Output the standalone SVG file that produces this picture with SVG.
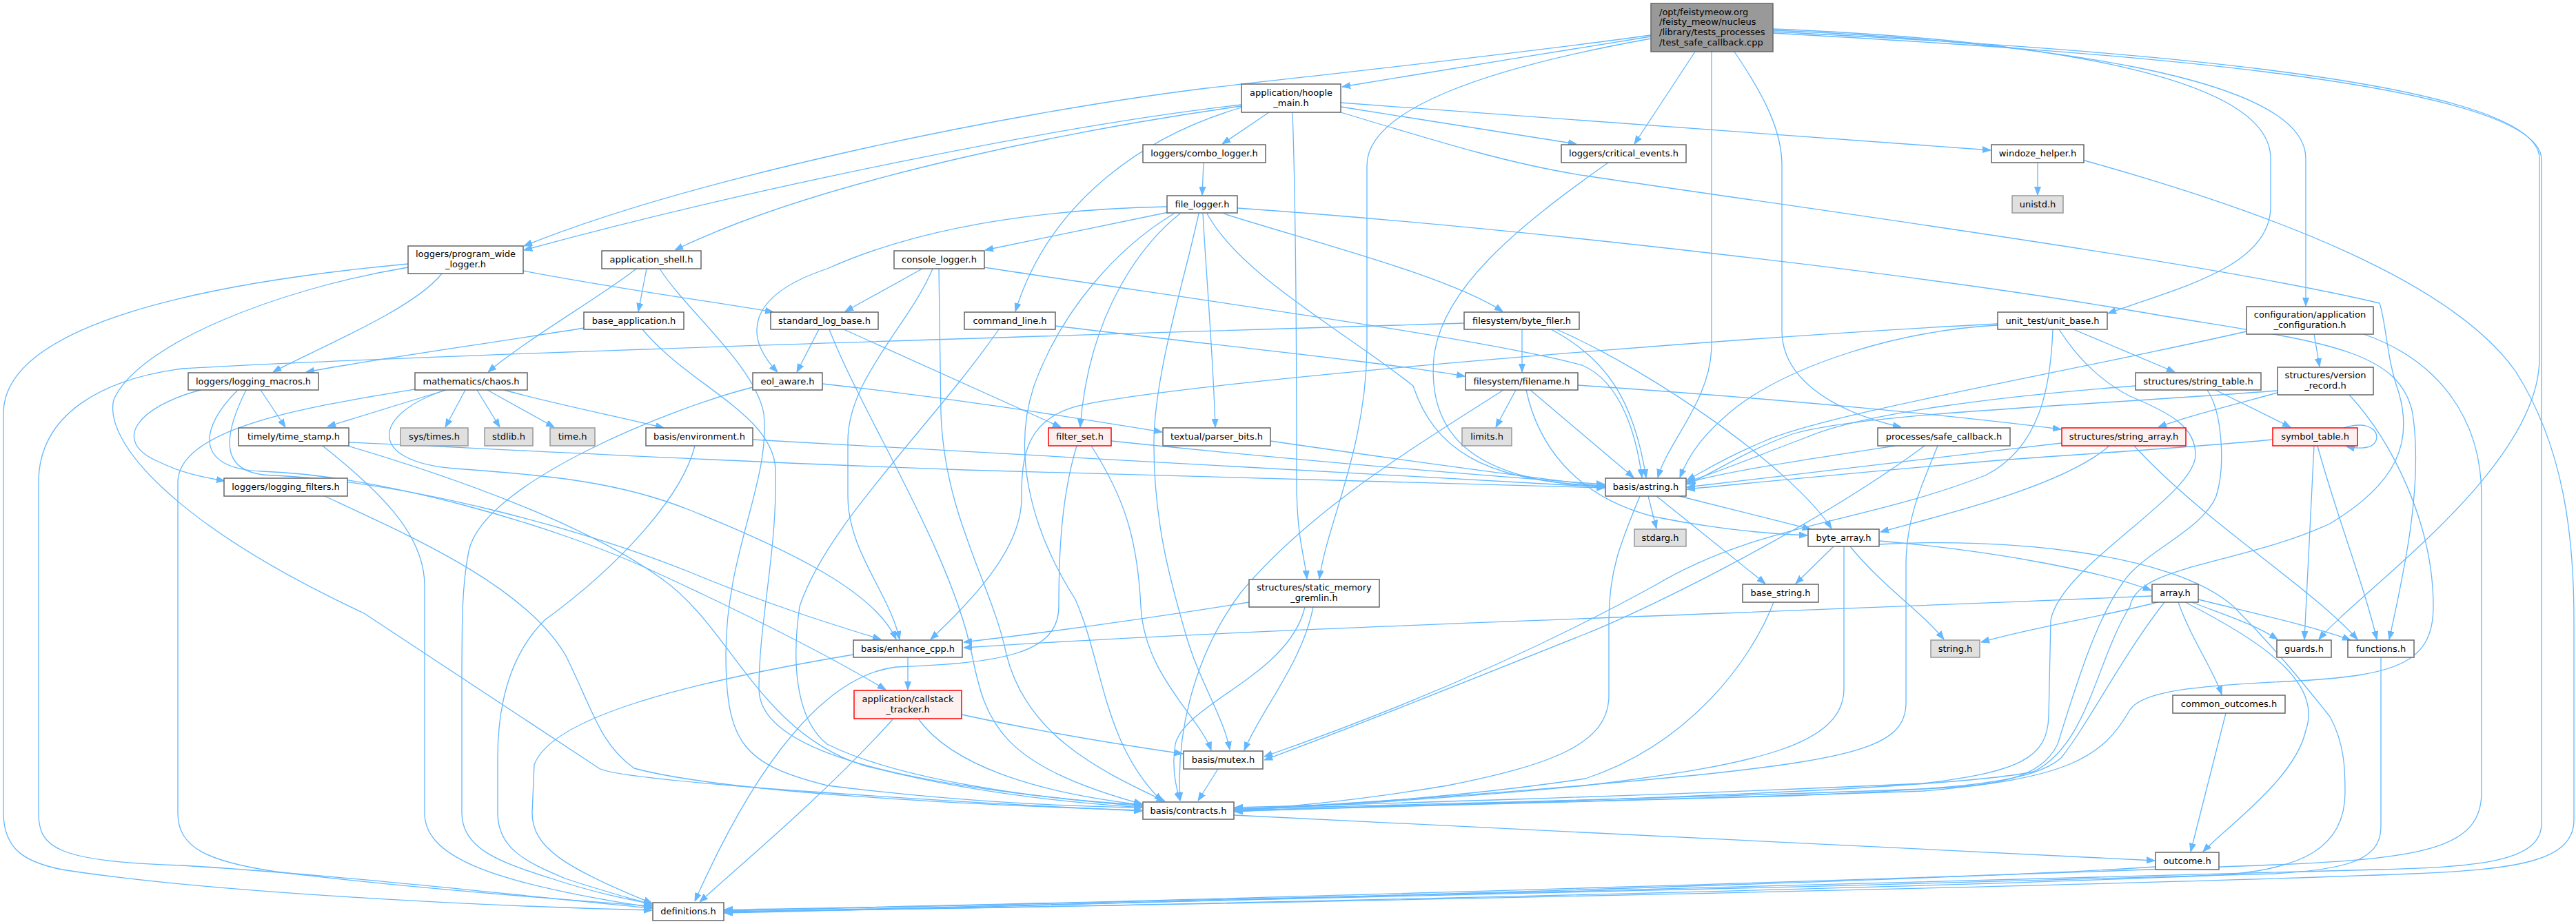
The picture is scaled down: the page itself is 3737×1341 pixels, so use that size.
<svg xmlns="http://www.w3.org/2000/svg" width="3737" height="1341" viewBox="0 0 3737 1341">
<defs>
<marker id="ah" viewBox="0 0 12 10" refX="12" refY="5" markerWidth="12" markerHeight="10" markerUnits="userSpaceOnUse" orient="auto"><path d="M0,0.5L12,5L0,9.5Z" fill="#63b8ff" stroke="#63b8ff" stroke-width="1"/></marker>
<style>
.e path{fill:none;stroke:#63b8ff;stroke-width:1.3;marker-end:url(#ah)}
.nd rect{fill:#ffffff;stroke:#666666;stroke-width:1.5}
.sys rect{fill:#e0e0e0;stroke:#999999}
.red rect{fill:#fff0f0;stroke:#ff0000}
.main rect{fill:#999999;stroke:#666666}
text{font-family:"DejaVu Sans",Verdana,sans-serif;font-size:13px;fill:#000000;text-anchor:middle}
.main text{text-anchor:start}
</style>
</defs>
<rect width="3737" height="1341" fill="#ffffff"/>
<g id="edges" class="e">
<path d="M2395,53 C2250,76 2080,104 1947,126"/>
<path d="M2395,51 C2200,78 1950,105 1750,128 C1450,165 1000,260 760,357"/>
<path d="M2459,75 L2371,209"/>
<path d="M2483,75 L2483,500 C2483,580 2420,640 2405,693"/>
<path d="M2516,75 C2560,140 2585,190 2585,240 L2585,480 C2585,545 2650,595 2758,620"/>
<path d="M2395,56 C2150,100 1983,160 1983,240 L1983,500 C1983,650 1925,760 1914,840"/>
<path d="M2572,42 C2900,55 3294,100 3294,230 L3294,300 C3294,390 3150,420 3058,455"/>
<path d="M2572,44 C2950,60 3345,110 3345,230 L3345,444"/>
<path d="M2572,46 C3000,68 3684,110 3684,230 L3684,520 C3684,680 3420,860 3364,928"/>
<path d="M2572,48 C3000,72 3687,114 3687,232 L3687,1195 C3687,1250 3600,1258 3450,1262 C3000,1278 1500,1312 1051,1322"/>
<path d="M1801,152 C1550,180 1100,270 760,363"/>
<path d="M1801,154 C1600,182 1200,255 979,363"/>
<path d="M1801,156 C1650,200 1520,300 1473,452"/>
<path d="M1841,163 L1773,209"/>
<path d="M1875,163 C1880,300 1881,500 1881,700 C1881,780 1893,810 1896,840"/>
<path d="M1945,149 C2300,175 2700,205 2888,218"/>
<path d="M1945,155 L2287,209"/>
<path d="M1945,163 C2100,210 2200,240 2300,255 C2600,300 3200,380 3452,440 C3462,470 3462,520 3480,570 C3500,640 3480,700 3380,760 C3250,820 3100,820 3090,880 C3040,960 3030,1080 2950,1120 C2800,1150 2100,1168 1791,1176"/>
<path d="M1746,236 L1744,283"/>
<path d="M1695,308 L1429,363"/>
<path d="M1693,300 C1450,305 1300,345 1200,390 C1080,430 1080,490 1128,540"/>
<path d="M1703,310 C1620,360 1540,450 1500,560 C1470,650 1490,760 1560,870 C1600,960 1600,1080 1686,1163"/>
<path d="M1712,310 C1660,350 1580,450 1567,620"/>
<path d="M1739,310 C1720,400 1675,540 1674,640 C1673,760 1700,850 1720,920 C1740,990 1775,1040 1784,1088"/>
<path d="M1745,310 C1750,400 1760,520 1763,620"/>
<path d="M1775,310 C1900,350 2100,400 2180,452"/>
<path d="M1751,310 C1800,400 1950,480 2050,560 C2080,650 2150,700 2328,705"/>
<path d="M1795,302 C2200,330 2800,400 3100,452 C3350,495 3480,500 3500,600 C3515,700 3490,820 3466,928"/>
<path d="M2333,236 C2200,330 2090,420 2080,520 C2070,640 2150,700 2328,706"/>
<path d="M2956,236 L2956,283"/>
<path d="M3024,233 C3300,310 3560,410 3650,540 C3720,650 3734,780 3734,900 L3734,1190 C3734,1250 3650,1262 3500,1268 C3000,1288 1500,1318 1051,1323"/>
<path d="M592,383 C300,410 5,470 5,600 L5,1180 C5,1235 40,1252 90,1262 C300,1295 700,1315 946,1321"/>
<path d="M592,388 C400,420 200,500 165,580 C150,640 250,760 528,890 L869,1115 C900,1135 1400,1165 1657,1177"/>
<path d="M641,397 C600,450 450,510 396,540"/>
<path d="M759,393 C900,420 1050,440 1122,453"/>
<path d="M938,390 L926,452"/>
<path d="M923,390 C880,425 760,495 708,540"/>
<path d="M957,390 C995,450 1095,530 1108,600 C1118,700 1053,800 1053,950 C1053,1080 1080,1110 1200,1140 C1400,1165 1550,1170 1657,1172"/>
<path d="M847,476 C700,500 550,520 444,540"/>
<path d="M932,478 C1000,560 1120,600 1125,680 C1128,800 1101,900 1101,1000 C1101,1090 1300,1140 1657,1170"/>
<path d="M1338,390 L1226,452"/>
<path d="M1353,390 C1320,470 1230,550 1230,640 L1230,720 C1230,800 1290,860 1305,928"/>
<path d="M1362,390 L1365,600 C1370,750 1440,850 1460,950 C1490,1070 1600,1120 1690,1163"/>
<path d="M1428,388 C1700,430 2150,490 2295,530 C2355,555 2375,640 2382,693"/>
<path d="M1188,478 L1156,540"/>
<path d="M1224,478 L1539,620"/>
<path d="M1203,478 C1250,600 1380,800 1410,950 C1430,1050 1450,1110 1657,1167"/>
<path d="M1531,473 C1800,505 2000,525 2125,546"/>
<path d="M1449,478 C1350,620 1200,760 1160,880 C1150,950 1150,1040 1200,1080 C1300,1130 1500,1160 1657,1168"/>
<path d="M2208,478 L2208,540"/>
<path d="M2250,478 C2330,520 2370,580 2388,693"/>
<path d="M2258,478 C2400,540 2600,680 2657,767"/>
<path d="M2124,469 C1600,485 600,515 264,535 C150,550 56,600 56,700 L56,1180 C56,1230 80,1250 264,1256 C500,1270 800,1305 946,1318"/>
<path d="M2898,472 C2750,480 2600,530 2520,590 C2470,630 2450,660 2437,693"/>
<path d="M2898,470 C2500,490 1700,555 1560,590 C1490,610 1482,660 1482,720 C1484,800 1400,880 1350,928"/>
<path d="M3008,478 L3155,540"/>
<path d="M2987,478 C3020,530 3060,560 3090,575 C3150,600 3185,620 3185,660 C3185,720 2990,820 2975,900 L2972,1040 C2970,1100 2930,1120 2790,1137 C2400,1155 1950,1168 1791,1172"/>
<path d="M2978,478 C2975,560 2960,650 2880,690 C2700,760 2550,760 2400,850 C2200,960 2000,1040 1834,1098"/>
<path d="M3357,485 L3365,532"/>
<path d="M3259,481 C3000,540 2650,600 2560,640 C2500,665 2470,685 2447,697"/>
<path d="M3429,485 C3530,520 3600,600 3600,720 L3600,1150 C3600,1230 3520,1246 3300,1255 C2800,1275 1500,1315 1051,1320"/>
<path d="M3304,570 C3230,590 3170,605 3131,620"/>
<path d="M3304,567 C3000,590 2700,600 2600,630 C2530,655 2480,690 2447,703"/>
<path d="M3408,573 C3470,640 3530,760 3530,880 C3530,960 3480,980 3335,988 C3200,995 3110,1000 3090,1030 C3050,1100 3000,1130 2790,1148 C2400,1162 1950,1170 1791,1178"/>
<path d="M3098,560 C2900,575 2700,600 2620,635 C2540,665 2480,690 2447,699"/>
<path d="M3214,566 L3323,620"/>
<path d="M3202,566 C3225,600 3228,680 3215,720 C3195,770 3110,800 3080,845 C3040,900 3010,1000 2985,1080 C2960,1130 2900,1140 2790,1145 C2400,1160 1950,1170 1791,1174"/>
<path d="M378,566 L414,620"/>
<path d="M291,566 C200,590 160,640 230,670 C260,685 290,692 326,698"/>
<path d="M345,566 C290,620 280,680 380,684 C550,690 800,760 950,830 C1080,890 1200,950 1285,1001"/>
<path d="M357,566 C320,640 320,690 400,690 C600,700 850,770 1000,830 C1120,880 1220,910 1278,928"/>
<path d="M647,566 L475,619"/>
<path d="M675,566 L646,620"/>
<path d="M692,566 L725,620"/>
<path d="M707,566 L804,620"/>
<path d="M731,566 C820,590 900,605 963,621"/>
<path d="M602,565 C450,590 258,620 258,700 L258,1180 C258,1230 300,1250 400,1265 C600,1290 850,1308 946,1315"/>
<path d="M647,566 C540,600 530,670 660,680 C800,690 900,700 1000,740 C1150,800 1270,860 1300,928"/>
<path d="M1193,557 C1400,580 1550,605 1686,627"/>
<path d="M1092,562 C980,590 700,700 680,800 C670,850 670,900 670,1000 L670,1180 C670,1230 720,1250 800,1275 C860,1295 910,1305 946,1312"/>
<path d="M1092,638 C1500,660 2000,690 2328,707"/>
<path d="M1008,647 C990,720 900,820 790,900 C740,950 722,1020 722,1100 L722,1180 C722,1230 760,1250 820,1275 C880,1295 920,1305 946,1313"/>
<path d="M1612,640 C1900,670 2150,690 2328,703"/>
<path d="M1583,647 C1630,720 1650,780 1655,880 C1660,980 1740,1040 1757,1089"/>
<path d="M1562,647 C1540,720 1536,800 1536,880 C1536,950 1450,962 1300,968 C1200,980 1100,1100 1008,1308"/>
<path d="M1843,640 C2050,670 2200,690 2328,706"/>
<path d="M2750,647 C2600,670 2500,685 2447,701"/>
<path d="M2792,647 C2640,760 2400,880 2300,920 C2100,1000 1950,1060 1834,1103"/>
<path d="M2811,647 C2790,700 2765,750 2765,820 L2765,1020 C2765,1080 2700,1100 2460,1125 C2200,1150 1950,1168 1791,1174"/>
<path d="M2991,643 C2800,665 2600,690 2447,707"/>
<path d="M3060,647 C3000,700 2850,740 2728,772"/>
<path d="M3096,647 C3200,760 3350,850 3420,928"/>
<path d="M3400,621 C3440,608 3456,630 3444,644 C3436,652 3418,651 3404,648"/>
<path d="M3297,638 C3150,652 3000,660 2900,668 C2700,685 2550,700 2447,710"/>
<path d="M3357,647 C3352,750 3346,850 3343,928"/>
<path d="M3362,647 C3390,750 3430,850 3448,928"/>
<path d="M471,720 C600,780 760,850 820,950 C860,1030 870,1080 920,1115 C1050,1150 1400,1168 1657,1176"/>
<path d="M506,642 C700,650 1000,668 1400,682 C1800,695 2100,702 2328,708"/>
<path d="M468,647 C560,720 616,780 616,850 L616,1180 C616,1240 700,1280 946,1317"/>
<path d="M504,647 C650,690 850,760 960,840 C1060,910 1100,1060 1250,1110 C1400,1150 1550,1165 1657,1172"/>
<path d="M2391,720 L2403,767"/>
<path d="M2403,720 L2561,847"/>
<path d="M2436,720 L2627,768"/>
<path d="M2379,720 C2350,790 2334,830 2334,900 L2334,1010 C2334,1080 2250,1110 2100,1140 C1950,1165 1850,1172 1791,1176"/>
<path d="M2660,793 L2605,847"/>
<path d="M2726,785 C2900,800 3050,830 3121,857"/>
<path d="M2684,793 C2730,850 2790,890 2820,928"/>
<path d="M2675,793 L2675,1000 C2675,1080 2550,1110 2300,1140 C2100,1160 1900,1170 1791,1176"/>
<path d="M2726,790 C2900,780 3150,800 3240,880 C3300,940 3340,990 3380,1040 C3402,1080 3402,1120 3402,1150 C3402,1230 3340,1262 3220,1270 C2700,1292 1500,1318 1051,1323"/>
<path d="M3130,874 C3050,895 2950,910 2874,932"/>
<path d="M3180,874 C3220,890 3270,905 3304,928"/>
<path d="M3189,870 C3270,890 3360,910 3410,929"/>
<path d="M3160,874 C3180,930 3210,970 3223,1008"/>
<path d="M3170,874 C3280,930 3370,990 3345,1060 C3330,1130 3230,1200 3196,1236"/>
<path d="M3140,874 C3080,950 3030,1050 2990,1100 C2950,1135 2850,1145 2600,1155 C2200,1168 1900,1172 1791,1177"/>
<path d="M3122,865 C2900,875 2600,885 2500,890 C2100,905 1700,920 1398,940"/>
<path d="M1317,954 L1317,1001"/>
<path d="M1238,950 C1000,990 800,1040 775,1110 L772,1180 C772,1230 820,1260 946,1311"/>
<path d="M1296,1043 C1200,1150 1080,1250 1015,1309"/>
<path d="M1332,1043 C1380,1110 1500,1150 1657,1168"/>
<path d="M1395,1037 C1500,1060 1620,1080 1716,1094"/>
<path d="M1812,874 C1650,900 1500,920 1398,932"/>
<path d="M1905,881 C1890,960 1830,1030 1805,1089"/>
<path d="M1893,881 C1870,980 1720,1020 1705,1080 C1700,1110 1705,1140 1712,1162"/>
<path d="M1767,1116 L1738,1162"/>
<path d="M1790,1183 C2300,1205 2800,1230 3126,1249"/>
<path d="M3127,1258 C2800,1280 1500,1315 1051,1325"/>
<path d="M3229,1035 L3178,1236"/>
<path d="M3454,954 L3454,1200 C3454,1250 3400,1262 3300,1268 C2500,1290 1500,1318 1051,1324"/>
<path d="M2573,874 C2540,960 2450,1080 2300,1130 C2100,1160 1900,1170 1791,1176"/>
<path d="M2199,566 L2170,620"/>
<path d="M2220,566 L2370,693"/>
<path d="M2214,566 C2230,640 2280,720 2400,750 C2500,770 2570,775 2622,777"/>
<path d="M2289,559 C2600,580 2850,605 2990,623"/>
<path d="M2181,566 C2050,650 1900,740 1800,860 C1740,940 1705,1050 1712,1162"/>
</g>
<g id="n-main" class="nd main"><rect x="2395" y="5" width="177" height="70"/><text x="2407" y="21.5">/opt/feistymeow.org</text><text x="2407" y="36.2">/feisty_meow/nucleus</text><text x="2407" y="50.9">/library/tests_processes</text><text x="2407" y="65.6">/test_safe_callback.cpp</text></g>
<g id="n-hoople_main" class="nd"><rect x="1801" y="122" width="144" height="41"/><text x="1873" y="138.8">application/hoople</text><text x="1873" y="153.5">_main.h</text></g>
<g id="n-program_wide_logger" class="nd"><rect x="592" y="357" width="167" height="40"/><text x="675.5" y="373.3">loggers/program_wide</text><text x="675.5" y="388">_logger.h</text></g>
<g id="n-critical_events" class="nd"><rect x="2265" y="210" width="181" height="26"/><text x="2355.5" y="227">loggers/critical_events.h</text></g>
<g id="n-combo_logger" class="nd"><rect x="1658" y="210" width="178" height="26"/><text x="1747" y="227">loggers/combo_logger.h</text></g>
<g id="n-windoze_helper" class="nd"><rect x="2889" y="210" width="134" height="26"/><text x="2956" y="227">windoze_helper.h</text></g>
<g id="n-unistd" class="nd sys"><rect x="2919" y="284" width="74" height="25"/><text x="2956" y="300.5">unistd.h</text></g>
<g id="n-file_logger" class="nd"><rect x="1693" y="284" width="102" height="25"/><text x="1744" y="300.5">file_logger.h</text></g>
<g id="n-application_shell" class="nd"><rect x="873" y="364" width="144" height="26"/><text x="945" y="381">application_shell.h</text></g>
<g id="n-console_logger" class="nd"><rect x="1297" y="364" width="131" height="26"/><text x="1362.5" y="381">console_logger.h</text></g>
<g id="n-base_application" class="nd"><rect x="847" y="453" width="145" height="25"/><text x="919.5" y="469.5">base_application.h</text></g>
<g id="n-standard_log_base" class="nd"><rect x="1118" y="453" width="156" height="25"/><text x="1196" y="469.5">standard_log_base.h</text></g>
<g id="n-command_line" class="nd"><rect x="1399" y="453" width="132" height="25"/><text x="1465" y="469.5">command_line.h</text></g>
<g id="n-byte_filer" class="nd"><rect x="2124" y="453" width="167" height="25"/><text x="2207.5" y="469.5">filesystem/byte_filer.h</text></g>
<g id="n-unit_base" class="nd"><rect x="2898" y="453" width="159" height="25"/><text x="2977.5" y="469.5">unit_test/unit_base.h</text></g>
<g id="n-application_configuration" class="nd"><rect x="3259" y="445" width="184" height="40"/><text x="3351" y="461.3">configuration/application</text><text x="3351" y="476">_configuration.h</text></g>
<g id="n-logging_macros" class="nd"><rect x="273" y="541" width="189" height="25"/><text x="367.5" y="557.5">loggers/logging_macros.h</text></g>
<g id="n-chaos" class="nd"><rect x="602" y="541" width="163" height="25"/><text x="683.5" y="557.5">mathematics/chaos.h</text></g>
<g id="n-eol_aware" class="nd"><rect x="1092" y="541" width="101" height="25"/><text x="1142.5" y="557.5">eol_aware.h</text></g>
<g id="n-filename" class="nd"><rect x="2126" y="541" width="163" height="25"/><text x="2207.5" y="557.5">filesystem/filename.h</text></g>
<g id="n-string_table" class="nd"><rect x="3098" y="541" width="182" height="25"/><text x="3189" y="557.5">structures/string_table.h</text></g>
<g id="n-version_record" class="nd"><rect x="3304" y="533" width="139" height="40"/><text x="3373.5" y="549.3">structures/version</text><text x="3373.5" y="564">_record.h</text></g>
<g id="n-time_stamp" class="nd"><rect x="346" y="621" width="160" height="26"/><text x="426" y="638">timely/time_stamp.h</text></g>
<g id="n-sys_times" class="nd sys"><rect x="581" y="621" width="98" height="26"/><text x="630" y="638">sys/times.h</text></g>
<g id="n-stdlib" class="nd sys"><rect x="703" y="621" width="70" height="26"/><text x="738" y="638">stdlib.h</text></g>
<g id="n-time" class="nd sys"><rect x="798" y="621" width="65" height="26"/><text x="830.5" y="638">time.h</text></g>
<g id="n-environment" class="nd"><rect x="937" y="621" width="155" height="26"/><text x="1014.5" y="638">basis/environment.h</text></g>
<g id="n-filter_set" class="nd red"><rect x="1521" y="621" width="91" height="26"/><text x="1566.5" y="638">filter_set.h</text></g>
<g id="n-parser_bits" class="nd"><rect x="1687" y="621" width="156" height="26"/><text x="1765" y="638">textual/parser_bits.h</text></g>
<g id="n-limits" class="nd sys"><rect x="2121" y="621" width="72" height="26"/><text x="2157" y="638">limits.h</text></g>
<g id="n-safe_callback" class="nd"><rect x="2724" y="621" width="192" height="26"/><text x="2820" y="638">processes/safe_callback.h</text></g>
<g id="n-string_array" class="nd red"><rect x="2991" y="621" width="180" height="26"/><text x="3081" y="638">structures/string_array.h</text></g>
<g id="n-symbol_table" class="nd red"><rect x="3297" y="621" width="123" height="26"/><text x="3358.5" y="638">symbol_table.h</text></g>
<g id="n-logging_filters" class="nd"><rect x="325" y="694" width="179" height="26"/><text x="414.5" y="711">loggers/logging_filters.h</text></g>
<g id="n-astring" class="nd"><rect x="2329" y="694" width="117" height="26"/><text x="2387.5" y="711">basis/astring.h</text></g>
<g id="n-stdarg" class="nd sys"><rect x="2371" y="768" width="75" height="25"/><text x="2408.5" y="784.5">stdarg.h</text></g>
<g id="n-byte_array" class="nd"><rect x="2623" y="768" width="103" height="25"/><text x="2674.5" y="784.5">byte_array.h</text></g>
<g id="n-static_memory_gremlin" class="nd"><rect x="1812" y="841" width="189" height="40"/><text x="1906.5" y="857.3">structures/static_memory</text><text x="1906.5" y="872">_gremlin.h</text></g>
<g id="n-base_string" class="nd"><rect x="2528" y="848" width="110" height="26"/><text x="2583" y="865">base_string.h</text></g>
<g id="n-array" class="nd"><rect x="3122" y="848" width="67" height="26"/><text x="3155.5" y="865">array.h</text></g>
<g id="n-enhance_cpp" class="nd"><rect x="1238" y="929" width="158" height="25"/><text x="1317" y="945.5">basis/enhance_cpp.h</text></g>
<g id="n-string" class="nd sys"><rect x="2801" y="929" width="71" height="25"/><text x="2836.5" y="945.5">string.h</text></g>
<g id="n-guards" class="nd"><rect x="3303" y="929" width="79" height="25"/><text x="3342.5" y="945.5">guards.h</text></g>
<g id="n-functions" class="nd"><rect x="3406" y="929" width="96" height="25"/><text x="3454" y="945.5">functions.h</text></g>
<g id="n-callstack_tracker" class="nd red"><rect x="1239" y="1002" width="156" height="41"/><text x="1317" y="1018.8">application/callstack</text><text x="1317" y="1033.5">_tracker.h</text></g>
<g id="n-common_outcomes" class="nd"><rect x="3152" y="1009" width="163" height="26"/><text x="3233.5" y="1026">common_outcomes.h</text></g>
<g id="n-mutex" class="nd"><rect x="1717" y="1090" width="115" height="26"/><text x="1774.5" y="1107">basis/mutex.h</text></g>
<g id="n-contracts" class="nd"><rect x="1658" y="1164" width="132" height="25"/><text x="1724" y="1180.5">basis/contracts.h</text></g>
<g id="n-outcome" class="nd"><rect x="3127" y="1237" width="92" height="25"/><text x="3173" y="1253.5">outcome.h</text></g>
<g id="n-definitions" class="nd"><rect x="947" y="1310" width="103" height="26"/><text x="998.5" y="1327">definitions.h</text></g>
</svg>
